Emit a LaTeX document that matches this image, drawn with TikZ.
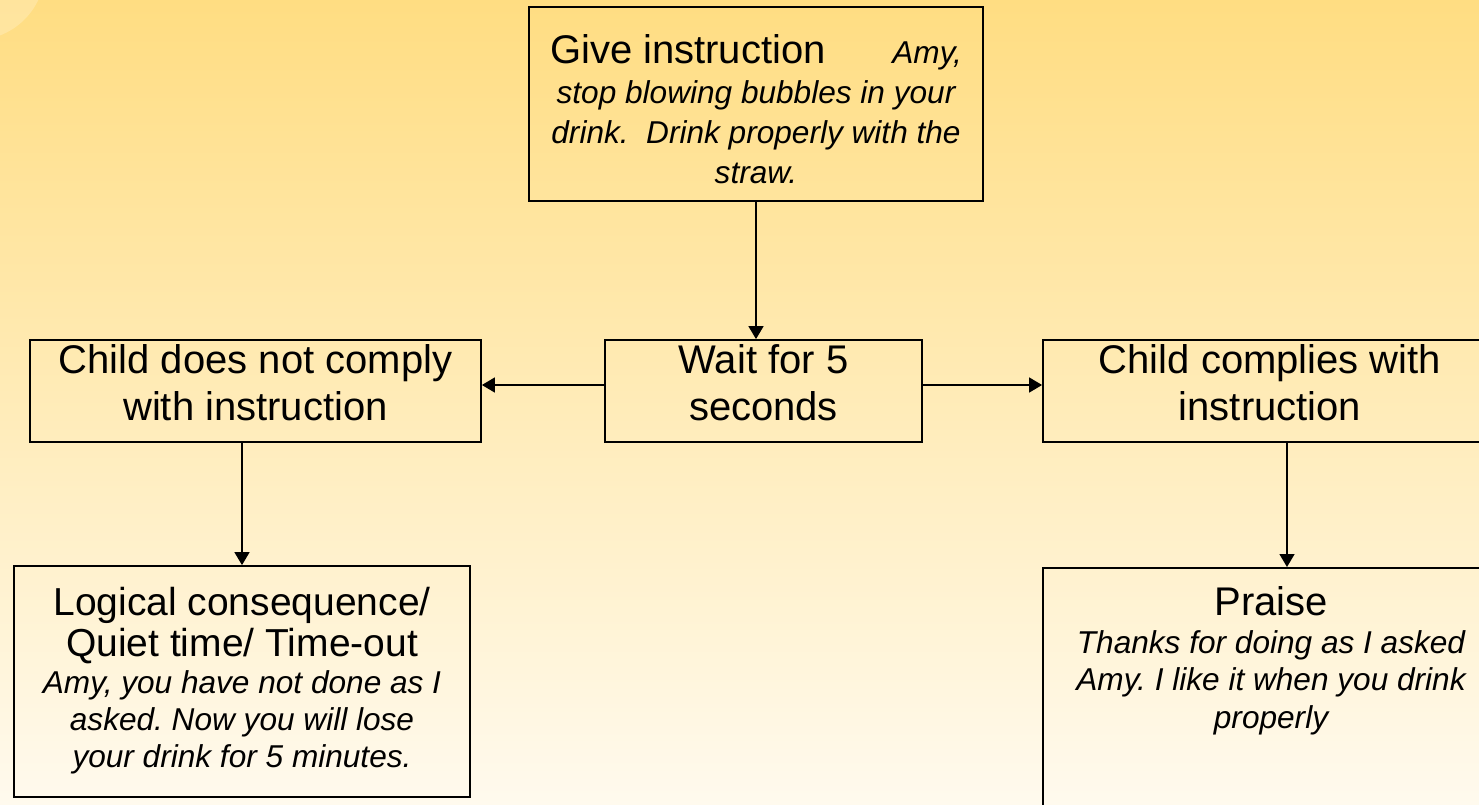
\documentclass[tikz,border=0pt]{standalone}
\usepackage{fontspec}
\setmainfont{Liberation Sans}
\usetikzlibrary{arrows.meta}
\frenchspacing

\definecolor{bgtop}{RGB}{255,221,130}
\definecolor{bgmid}{RGB}{255,236,186}
\definecolor{bgbot}{RGB}{255,250,238}

\tikzset{
  stepbox/.style={draw=black, line width=0.9pt, align=flush center, inner ysep=0pt, inner xsep=3pt,
    font=\fontsize{20}{23.5}\selectfont},
  flowarrow/.style={draw=black, line width=0.75pt, -{Triangle[length=6.5pt,width=7.5pt]}}
}
\newcommand{\said}[2][18.5]{{\itshape\fontsize{15.8}{#1}\selectfont #2\par}}

\begin{document}
\begin{tikzpicture}[x=0.5pt,y=-0.5pt]
\useasboundingbox (0,0) rectangle (1479,804);
\clip (0,0) rectangle (1479,804);
\shade[top color=bgtop, middle color=bgmid, bottom color=bgbot] (0,0) rectangle (1479,804);
\fill[white, opacity=.22] (-25,-30) circle[radius=70];

\node[stepbox, minimum width=227pt, text width=210pt, text height=28pt, text depth=69pt,
  font=\fontsize{20}{20}\selectfont] (instr) at (756,104)
  {\makebox[206pt]{Give instruction\hfill\textit{\fontsize{15.8}{20}\selectfont Amy,}}\\
   \itshape\fontsize{15.8}{20}\selectfont stop blowing bubbles in your\\
   drink.~ Drink properly with the\\ straw.};

\node[stepbox, minimum width=158.5pt, text width=150pt, text height=16.5pt, text depth=34.5pt]
  (wait) at (763.5,391) {Wait for 5\\seconds};
\node[stepbox, minimum width=225.5pt, text width=215pt, text height=16.5pt, text depth=34.5pt]
  (nocomply) at (255.5,391) {Child does not comply\\with instruction};
\node[stepbox, minimum width=227pt, text width=215pt, text height=16.5pt, text depth=34.5pt]
  (comply) at (1270,391) {Child complies with\\instruction};

\node[stepbox, minimum width=228pt, text width=218pt, text height=24.5pt, text depth=91pt,
  font=\fontsize{19.5}{20.5}\selectfont] (timeout) at (242,681.5)
  {Logical consequence/\\Quiet time/ Time-out\par
   \said{Amy, you have not done as I\\asked. Now you will lose\\your drink for 5 minutes.}};
\node[stepbox, anchor=north, minimum width=228pt, text width=218pt, text height=24pt, text depth=150pt]
  (praise) at (1271,567)
  {Praise\par
   \said[18.75]{Thanks for doing as I asked\\Amy. I like it when you drink\\properly}};

\draw[flowarrow] (instr.south) -- (instr.south |- wait.north);
\draw[flowarrow] ([yshift=3pt]wait.west) -- ([yshift=3pt]wait.west -| nocomply.east);
\draw[flowarrow] ([yshift=3pt]wait.east) -- ([yshift=3pt]wait.east -| comply.west);
\draw[flowarrow] (nocomply.south -| timeout.north) -- (timeout.north);
\draw[flowarrow] ([xshift=8.5pt]comply.south) -- ([xshift=8.5pt]comply.south |- praise.north);
\end{tikzpicture}
\end{document}
